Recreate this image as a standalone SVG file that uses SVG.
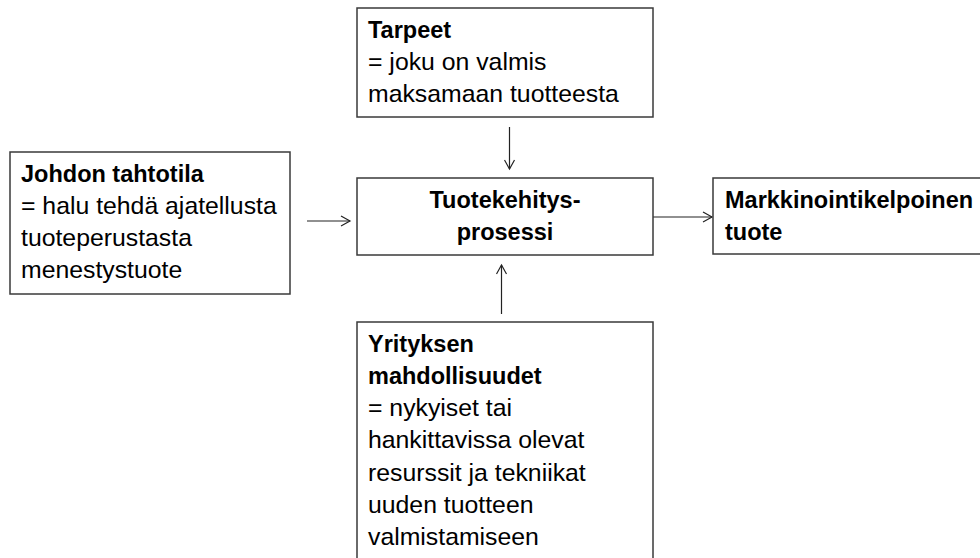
<svg xmlns="http://www.w3.org/2000/svg" width="980" height="558" viewBox="0 0 980 558">
<defs>
<style>
.box{fill:#fff;stroke:#3a3a3a;stroke-width:1.5}
.t{font-family:"Liberation Sans",Arial,sans-serif;font-size:24.8px;fill:#000}
.b{font-weight:bold;font-size:23.5px}
.c{stroke:#222;stroke-width:1.2;fill:none}
</style>
<marker id="arr" markerWidth="12" markerHeight="12" refX="10" refY="6" orient="auto" markerUnits="userSpaceOnUse">
<path d="M1,1 L10,6 L1,11" fill="none" stroke="#222" stroke-width="1.2"/>
</marker>
</defs>
<rect width="980" height="558" fill="#fff"/>
<g id="connectors">
<line class="c" x1="509.5" y1="127" x2="509.5" y2="169" marker-end="url(#arr)"/>
<line class="c" x1="501.5" y1="314" x2="501.5" y2="265" marker-end="url(#arr)"/>
<line class="c" x1="307" y1="221" x2="350" y2="221" marker-end="url(#arr)"/>
<line class="c" x1="653" y1="217" x2="712" y2="217" marker-end="url(#arr)"/>
</g>
<g id="tarpeet">
<rect class="box" x="357" y="8" width="296" height="109"/>
<text class="t" x="368"><tspan class="b" x="368" y="38">Tarpeet</tspan><tspan x="368" y="70">= joku on valmis</tspan><tspan x="368" y="102">maksamaan tuotteesta</tspan></text>
</g>
<g id="johdon">
<rect class="box" x="10" y="152" width="280" height="142"/>
<text class="t"><tspan class="b" x="21" y="182">Johdon tahtotila</tspan><tspan x="21" y="214">= halu tehdä ajatellusta</tspan><tspan x="21" y="246">tuoteperustasta</tspan><tspan x="21" y="278">menestystuote</tspan></text>
</g>
<g id="prosessi">
<rect class="box" x="357" y="178" width="296" height="77"/>
<text class="t b" text-anchor="middle"><tspan x="505" y="208">Tuotekehitys-</tspan><tspan x="505" y="240">prosessi</tspan></text>
</g>
<g id="tuote">
<rect class="box" x="713" y="178" width="280" height="76"/>
<text class="t b"><tspan x="725" y="208">Markkinointikelpoinen</tspan><tspan x="725" y="240">tuote</tspan></text>
</g>
<g id="yrityksen">
<rect class="box" x="357" y="322" width="296" height="250"/>
<text class="t"><tspan class="b" x="368" y="352">Yrityksen</tspan><tspan class="b" x="368" y="384">mahdollisuudet</tspan><tspan x="368" y="416">= nykyiset tai</tspan><tspan x="368" y="448">hankittavissa olevat</tspan><tspan x="368" y="481">resurssit ja tekniikat</tspan><tspan x="368" y="513">uuden tuotteen</tspan><tspan x="368" y="545">valmistamiseen</tspan></text>
</g>
</svg>
